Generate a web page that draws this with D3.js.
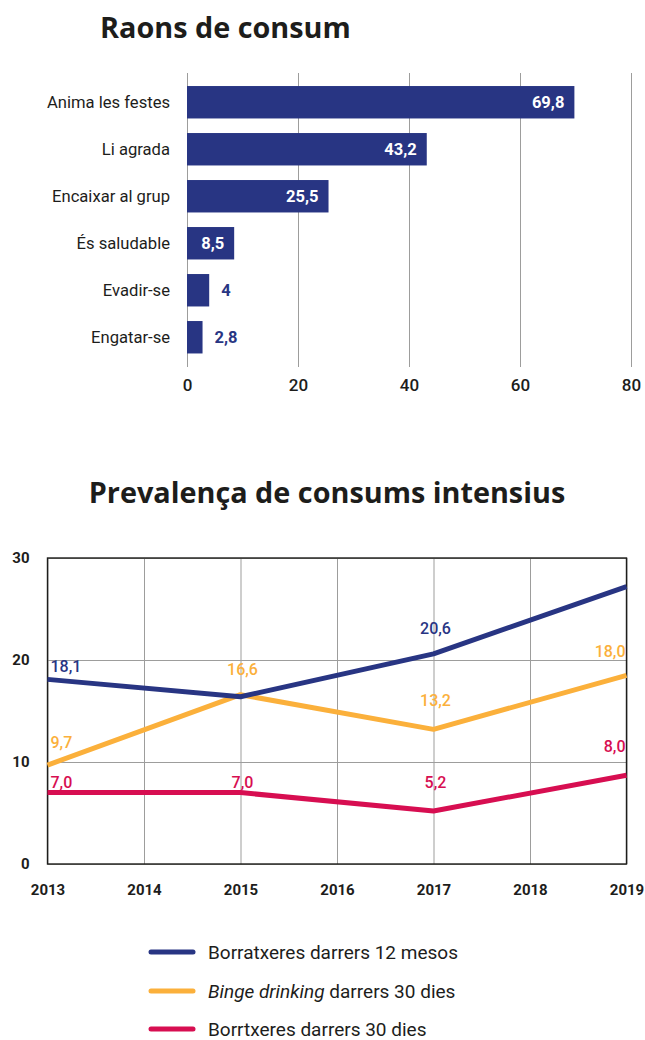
<!DOCTYPE html>
<html>
<head>
<meta charset="utf-8">
<script src="https://cdn.jsdelivr.net/npm/d3@7"></script>
<style>
body { margin: 0; background: #fff; }
svg { display: block; }
text { font-family: Roboto, "Open Sans", sans-serif; fill: #1d1d1b; }
.title { font-family: "Open Sans", sans-serif; font-weight: 700; font-size: 28.8px; }
</style>
</head>
<body>
<script>
var width = 645;
var height = 1040;

// Raons de consum
var reasons = ["Anima les festes", "Li agrada", "Encaixar al grup", "És saludable", "Evadir-se", "Engatar-se"];
var reasonValues = [69.8, 43.2, 25.5, 8.5, 4, 2.8];
var reasonLabels = ["69,8", "43,2", "25,5", "8,5", "4", "2,8"];
var reasonTicks = [0, 20, 40, 60, 80];

// Prevalença de consums intensius
var years = [2013, 2014, 2015, 2016, 2017, 2018, 2019];
var pointYears = [2013, 2015, 2017, 2019];
var borratx12 = [18.1, 16.4, 20.6, 27.2];
var borratx12Labels = ["18,1", null, "20,6", null];
var binge30 = [9.7, 16.6, 13.2, 18.5];
var binge30Labels = ["9,7", "16,6", "13,2", "18,0"];
var borratx30 = [7.0, 7.0, 5.2, 8.7];
var borratx30Labels = ["7,0", "7,0", "5,2", "8,0"];
var prevTicks = [0, 10, 20, 30];
var legendItalic = ["", "Binge drinking", ""];
var legendText = ["Borratxeres darrers 12 mesos", " darrers 30 dies", "Borrtxeres darrers 30 dies"];

var navy = "#283583", yellow = "#fbb03b", red = "#d70e51", grid = "#9d9d9c";

var svg = d3.select("body").append("svg")
  .attr("width", width)
  .attr("height", height);

// ---------- bar chart ----------
svg.append("text").attr("class", "title")
  .attr("x", 100).attr("y", 38)
  .text("Raons de consum");

var x = d3.scaleLinear().domain([0, 80]).range([187, 631]);
var y = d3.scaleBand().domain(reasons)
  .range([78.75, 360.75])
  .paddingInner(0.31).paddingOuter(0.155);

var xAxis = svg.append("g")
  .attr("transform", "translate(0,367)")
  .call(d3.axisBottom(x).tickValues(reasonTicks).tickSize(-294).tickPadding(12));
xAxis.select(".domain").remove();
xAxis.selectAll(".tick line").attr("stroke", grid).attr("stroke-width", 1);
xAxis.selectAll(".tick text")
  .style("font-family", "Roboto, sans-serif")
  .style("font-size", "17px").style("font-weight", 500)
  .attr("fill", "#1d1d1b");

svg.selectAll(".bar")
  .data(reasonValues)
  .enter()
  .append("rect")
  .attr("class", "bar")
  .attr("x", x(0))
  .attr("y", function(d, i){ return y(reasons[i]); })
  .attr("width", function(d){ return x(d) - x(0); })
  .attr("height", y.bandwidth())
  .attr("fill", navy);

svg.selectAll(".cat")
  .data(reasons)
  .enter()
  .append("text")
  .attr("class", "cat")
  .attr("x", 170)
  .attr("y", function(d){ return y(d) + y.bandwidth()/2 + 5.5; })
  .attr("text-anchor", "end")
  .style("font-size", "16.6px")
  .text(function(d){ return d; });

svg.selectAll(".val")
  .data(reasonValues)
  .enter()
  .append("text")
  .attr("class", "val")
  .attr("x", function(d){ return x(d) - x(0) > 40 ? x(d) - 10 : x(d) + 12; })
  .attr("y", function(d, i){ return y(reasons[i]) + y.bandwidth()/2 + 6; })
  .attr("text-anchor", function(d){ return x(d) - x(0) > 40 ? "end" : "start"; })
  .style("font-size", "16.5px").style("font-weight", 700)
  .style("fill", function(d){ return x(d) - x(0) > 40 ? "#fff" : navy; })
  .text(function(d, i){ return reasonLabels[i]; });

// ---------- line chart ----------
svg.append("text").attr("class", "title")
  .attr("x", 327).attr("y", 503)
  .attr("text-anchor", "middle")
  .text("Prevalença de consums intensius");

var lx = d3.scaleLinear().domain([2013, 2019]).range([47.5, 626.5]);
var ly = d3.scaleLinear().domain([0, 30]).range([864, 558]);

var gx = svg.append("g")
  .attr("transform", "translate(0,864)")
  .call(d3.axisBottom(lx).tickValues(years).tickFormat(d3.format("d")).tickSize(-306).tickPadding(20));
gx.select(".domain").remove();
gx.selectAll(".tick line").attr("stroke", grid);
gx.selectAll(".tick text")
  .style("font-family", "Roboto, sans-serif")
  .style("font-size", "15px").style("font-weight", 700)
  .attr("fill", "#1d1d1b");

var gy = svg.append("g")
  .attr("transform", "translate(47.5,0)")
  .call(d3.axisLeft(ly).tickValues(prevTicks).tickSize(-579).tickPadding(18));
gy.select(".domain").remove();
gy.selectAll(".tick line").attr("stroke", grid);
gy.selectAll(".tick text")
  .style("font-family", "Roboto, sans-serif")
  .style("font-size", "15px").style("font-weight", 700)
  .attr("fill", "#1d1d1b");

svg.append("rect")
  .attr("x", lx(2013)).attr("y", ly(30))
  .attr("width", lx(2019) - lx(2013)).attr("height", ly(0) - ly(30))
  .attr("fill", "none").attr("stroke", "#1d1d1b").attr("stroke-width", 1.4);

var series = [
  {values: borratx30, labels: borratx30Labels, color: red, dy: [-5, -5, -23, -23]},
  {values: binge30, labels: binge30Labels, color: yellow, dy: [-17, -20, -23, -18]},
  {values: borratx12, labels: borratx12Labels, color: navy, dy: [-7, 0, -20, 0]}
];

var line = d3.line()
  .x(function(d, i){ return lx(pointYears[i]); })
  .y(function(d){ return ly(d); });

series.forEach(function(s){
  svg.append("path")
    .attr("d", line(s.values))
    .attr("fill", "none")
    .attr("stroke", s.color)
    .attr("stroke-width", 5)
    .attr("stroke-linejoin", "round");
});

series.forEach(function(s){
  s.labels.forEach(function(lab, i){
    if (!lab) return;
    var last = i == s.labels.length - 1;
    svg.append("text")
      .attr("x", lx(pointYears[i]) + (i == 0 ? 3 : last ? -1 : 2))
      .attr("y", ly(s.values[i]) + s.dy[i])
      .attr("text-anchor", i == 0 ? "start" : last ? "end" : "middle")
      .style("font-size", "16px").style("font-weight", 500)
      .style("fill", s.color)
      .text(lab);
  });
});

// legend
var legendColors = [navy, yellow, red];
var legendY = [952, 991, 1029];
legendColors.forEach(function(c, i){
  svg.append("line")
    .attr("x1", 151).attr("x2", 193)
    .attr("y1", legendY[i]).attr("y2", legendY[i])
    .attr("stroke", c).attr("stroke-width", 5)
    .attr("stroke-linecap", "round");
  var t = svg.append("text")
    .attr("x", 208).attr("y", legendY[i] + 6.5)
    .style("font-size", "19px");
  if (legendItalic[i]) t.append("tspan").style("font-style", "italic").text(legendItalic[i]);
  t.append("tspan").text(legendText[i]);
});
</script>
</body>
</html>
